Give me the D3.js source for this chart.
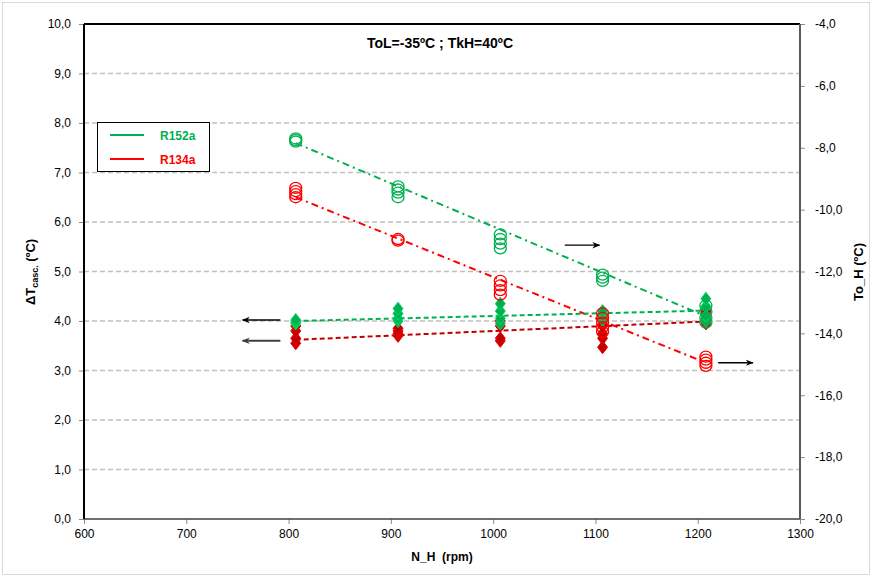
<!DOCTYPE html>
<html>
<head>
<meta charset="utf-8">
<script src="https://cdn.jsdelivr.net/npm/d3@7"></script>
<style>
  body { margin: 0; background: #fff; }
  text { font-family: "Liberation Sans", Arial, sans-serif; }
</style>
</head>
<body>
<svg id="chart" width="873" height="578"></svg>
<script>
// Compressor speed levels (rpm)
const speeds = [807, 907, 1007, 1107, 1208];

// ΔT cascade (ºC), left axis — replicate readings per speed
const dtR152a = [
  [3.95, 3.98, 4.02],
  [4.0, 4.05, 4.15, 4.25],
  [3.95, 4.05, 4.2, 4.35],
  [4.02, 4.1, 4.15, 4.2],
  [4.0, 4.1, 4.3, 4.45]
];
const dtR134a = [
  [3.55, 3.65, 3.8, 3.9],
  [3.7, 3.75, 3.8, 3.85],
  [3.6, 3.65, 3.9, 4.0],
  [3.47, 3.65, 3.75, 3.9, 4.05],
  [3.95, 4.05, 4.15, 4.2]
];

// To_H (ºC), right axis — replicate readings per speed
const toR152a = [
  [-7.7, -7.75, -7.8],
  [-9.25, -9.35, -9.45, -9.6],
  [-10.8, -10.95, -11.1, -11.25],
  [-12.1, -12.2, -12.3],
  [-13.1, -13.3, -13.5, -13.65]
];
const toR134a = [
  [-9.3, -9.4, -9.5, -9.6],
  [-10.95, -11.0],
  [-12.3, -12.45, -12.6, -12.75],
  [-13.35, -13.5, -13.65, -13.8, -13.95],
  [-14.75, -14.85, -14.95, -15.05]
];

// Linear trend lines: values at the first and last speed
const trendSpeeds = [807, 1208];
const trendDtR152a = [4.0, 4.21];
const trendDtR134a = [3.62, 3.99];
const trendToR152a = [-7.85, -13.45];
const trendToR134a = [-9.6, -14.95];

// Axis ticks
const xTicks = [600, 700, 800, 900, 1000, 1100, 1200, 1300];
const yLeftTicks = [0, 1, 2, 3, 4, 5, 6, 7, 8, 9, 10];
const yRightTicks = [-20, -18, -16, -14, -12, -10, -8, -6, -4];

// Series names and colours
const seriesNames = ["R152a", "R134a"];
const seriesColors = ["#00B050", "#FF0000"];
const dtColors = ["#00B050", "#C00000"];

// Arrows pointing to the axis each group belongs to: [x0, y0, x1, y1]
const leftArrows = [[792, 4.02, 755, 4.02], [792, 3.6, 755, 3.6]];
const rightArrows = [[1070, -11.15, 1104, -11.15], [1220, -14.95, 1254, -14.95]];

const svg = d3.select("#chart");
const plotL = 84, plotR = 800, plotT = 24, plotB = 519;

const x = d3.scaleLinear().domain([600, 1300]).range([plotL, plotR]);
const yL = d3.scaleLinear().domain([0, 10]).range([plotB, plotT]);
const yR = d3.scaleLinear().domain([-20, -4]).range([plotB, plotT]);

// Outer chart border
svg.append("rect").attr("x", 2.5).attr("y", 2.5).attr("width", 867).attr("height", 572)
  .attr("fill", "#fff").attr("stroke", "#d9d9d9").attr("stroke-width", 1);

// Horizontal gridlines
svg.append("g").selectAll("line").data(yLeftTicks.filter(d => d > 0 && d < 10)).join("line")
  .attr("x1", plotL).attr("x2", plotR)
  .attr("y1", d => yL(d)).attr("y2", d => yL(d))
  .attr("stroke", "#c0c0c0").attr("stroke-width", 1.5).attr("stroke-dasharray", "5,3");

// Axes
const fmt = d => d3.format(".1f")(d).replace(".", ",").replace("−", "-");
const axL = svg.append("g").attr("transform", `translate(${plotL},0)`)
  .call(d3.axisLeft(yL).tickValues(yLeftTicks).tickFormat(fmt).tickSize(5).tickPadding(8));
const axR = svg.append("g").attr("transform", `translate(${plotR},0)`)
  .call(d3.axisRight(yR).tickValues(yRightTicks).tickFormat(fmt).tickSize(5).tickPadding(10));
const axB = svg.append("g").attr("transform", `translate(0,${plotB})`)
  .call(d3.axisBottom(x).tickValues(xTicks).tickFormat(d3.format("d")).tickSize(5).tickPadding(5));
[axL, axR, axB].forEach(a => {
  a.select(".domain").remove();
  a.selectAll(".tick line").attr("stroke", "#8c8c8c");
  a.selectAll(".tick text").attr("font-size", 12).attr("fill", "#000")
    .attr("font-family", "Liberation Sans, Arial, sans-serif");
});

// Plot frame
svg.append("line").attr("x1", plotL).attr("x2", plotR).attr("y1", plotT).attr("y2", plotT)
  .attr("stroke", "#000").attr("stroke-width", 2);
svg.append("line").attr("x1", plotL).attr("x2", plotR).attr("y1", plotB).attr("y2", plotB)
  .attr("stroke", "#404040").attr("stroke-width", 1.5);
svg.append("line").attr("x1", plotL).attr("x2", plotL).attr("y1", plotT).attr("y2", plotB)
  .attr("stroke", "#000").attr("stroke-width", 2);
svg.append("line").attr("x1", plotR).attr("x2", plotR).attr("y1", plotT).attr("y2", plotB)
  .attr("stroke", "#595959").attr("stroke-width", 2);

// Trend lines
const trendLine = (vals, scale) => d3.line().x((d, i) => x(trendSpeeds[i])).y(d => scale(d))(vals);
const trends = [
  [trendToR152a, yR, seriesColors[0], "7,4,2,4"],
  [trendToR134a, yR, seriesColors[1], "7,4,2,4"],
  [trendDtR152a, yL, seriesColors[0], "5,3"],
  [trendDtR134a, yL, dtColors[1], "5,3"]
];
trends.forEach(([vals, scale, col, dash]) => {
  svg.append("path").attr("d", trendLine(vals, scale))
    .attr("fill", "none").attr("stroke", col).attr("stroke-width", 2).attr("stroke-dasharray", dash);
});

// Flatten replicate readings into points
const flatten = arr => arr.flatMap((reps, i) => reps.map(v => ({ s: speeds[i], v })));

// Filled diamonds for ΔT
const diamond = (cx, cy) => `M${cx},${cy - 6.5}L${cx + 5},${cy}L${cx},${cy + 6.5}L${cx - 5},${cy}Z`;
[[dtR134a, dtColors[1]], [dtR152a, dtColors[0]]].forEach(([arr, col]) => {
  svg.append("g").selectAll("path").data(flatten(arr)).join("path")
    .attr("d", d => diamond(x(d.s), yL(d.v)))
    .attr("fill", col).attr("stroke", d3.color(col).brighter(0.6)).attr("stroke-width", 1);
});

// Open circles for To_H
[[toR134a, seriesColors[1]], [toR152a, seriesColors[0]]].forEach(([arr, col]) => {
  svg.append("g").selectAll("ellipse").data(flatten(arr)).join("ellipse")
    .attr("cx", d => x(d.s)).attr("cy", d => yR(d.v))
    .attr("rx", 6).attr("ry", 5.5)
    .attr("fill", "none").attr("stroke", col).attr("stroke-width", 1.3);
});

// Arrows
const defs = svg.append("defs");
["#000", "#404040"].forEach((c, i) => {
  defs.append("marker").attr("id", "arr" + i).attr("viewBox", "0 0 10 10")
    .attr("refX", 9).attr("refY", 5).attr("markerWidth", 8).attr("markerHeight", 8)
    .attr("orient", "auto").attr("markerUnits", "userSpaceOnUse")
    .append("path").attr("d", "M0,1L10,5L0,9L3,5Z").attr("fill", c);
});
leftArrows.forEach((a, i) => {
  svg.append("line").attr("x1", x(a[0])).attr("y1", yL(a[1])).attr("x2", x(a[2])).attr("y2", yL(a[3]))
    .attr("stroke", i === 0 ? "#000" : "#404040").attr("stroke-width", i === 0 ? 1.3 : 2)
    .attr("marker-end", `url(#arr${i})`);
});
rightArrows.forEach(a => {
  svg.append("line").attr("x1", x(a[0])).attr("y1", yR(a[1])).attr("x2", x(a[2])).attr("y2", yR(a[3]))
    .attr("stroke", "#000").attr("stroke-width", 1.3).attr("marker-end", "url(#arr0)");
});

// Title
svg.append("text").attr("x", 440).attr("y", 48).attr("text-anchor", "middle")
  .attr("font-size", 14).attr("font-weight", "bold").text("ToL=-35ºC ; TkH=40ºC");

// Legend
const lg = svg.append("g");
lg.append("rect").attr("x", 97.5).attr("y", 122.5).attr("width", 112).attr("height", 49)
  .attr("fill", "#fff").attr("stroke", "#000").attr("stroke-width", 1);
seriesNames.forEach((n, i) => {
  const yy = 135 + i * 24;
  lg.append("line").attr("x1", 110).attr("x2", 144).attr("y1", yy).attr("y2", yy)
    .attr("stroke", seriesColors[i]).attr("stroke-width", 2);
  lg.append("text").attr("x", 160).attr("y", yy + 4.5).attr("font-size", 12).attr("font-weight", "bold")
    .attr("fill", seriesColors[i]).text(n);
});

// Axis titles
const yl = svg.append("text").attr("transform", "translate(35,272) rotate(-90)")
  .attr("text-anchor", "middle").attr("font-size", 13).attr("font-weight", "bold");
yl.append("tspan").text("ΔT");
yl.append("tspan").attr("font-size", 9).attr("dy", 3).text("casc.");
yl.append("tspan").attr("dy", -3).text(" (ºC)");

svg.append("text").attr("transform", "translate(863,272) rotate(-90)")
  .attr("text-anchor", "middle").attr("font-size", 13).attr("font-weight", "bold").text("To_H (ºC)");

svg.append("text").attr("x", 442).attr("y", 561).attr("text-anchor", "middle")
  .attr("font-size", 12).attr("font-weight", "bold").attr("xml:space", "preserve").text("N_H  (rpm)");
</script>
</body>
</html>
